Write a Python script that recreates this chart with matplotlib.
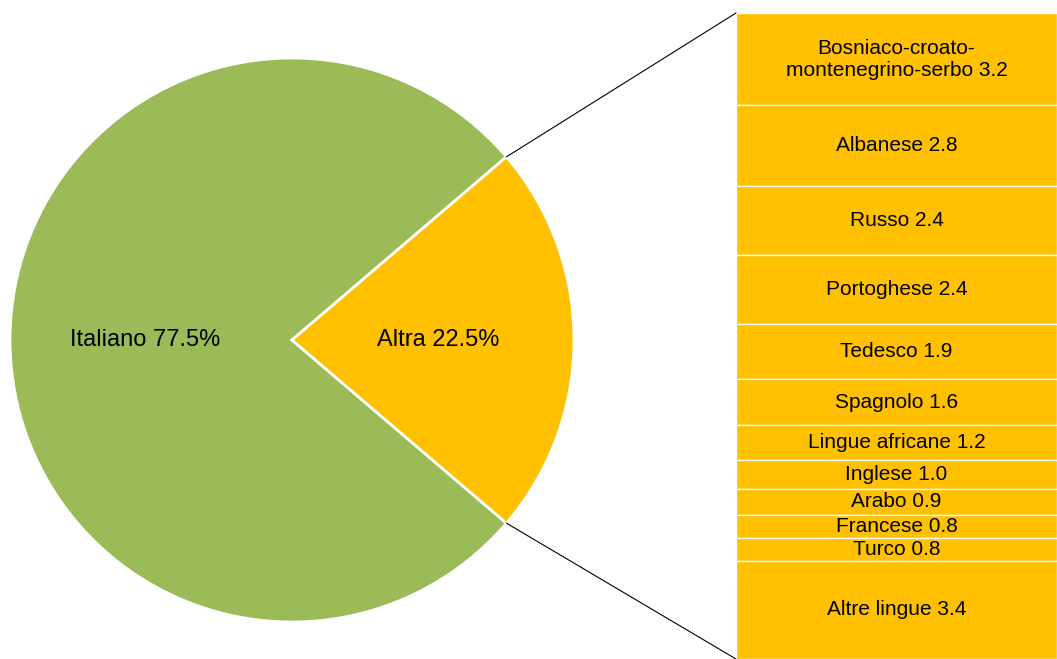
import matplotlib
matplotlib.use("Agg")
import matplotlib.pyplot as plt
from matplotlib.patches import ConnectionPatch

plt.rcParams['font.family'] = ['Liberation Sans', 'DejaVu Sans']

# dati
pie_labels = ["Italiano", "Altra"]
pie_values = [77.5, 22.5]
pie_colors = ["#9BBB59", "#FFC000"]

bar_labels = ["Bosniaco-croato-\nmontenegrino-serbo", "Albanese", "Russo", "Portoghese",
              "Tedesco", "Spagnolo", "Lingue africane", "Inglese", "Arabo",
              "Francese", "Turco", "Altre lingue"]
bar_values = [3.2, 2.8, 2.4, 2.4, 1.9, 1.6, 1.2, 1.0, 0.9, 0.8, 0.8, 3.4]
bar_color = "#FFC000"

W, H = 1057, 659
fig = plt.figure(figsize=(W / 100, H / 100), dpi=100)

# torta
ax_pie = fig.add_axes([10 / W, (H - 622) / H, 564 / W, 564 / H])
start = 360 * pie_values[1] / 100 / 2
wedges, _ = ax_pie.pie(pie_values, colors=pie_colors, startangle=start,
                       counterclock=True,
                       wedgeprops=dict(edgecolor="white", linewidth=2))
ax_pie.set_xlim(-1, 1)
ax_pie.set_ylim(-1, 1)
ax_pie.set_aspect("equal")
ax_pie.axis("off")

import numpy as np
for w, lab, val in zip(wedges, pie_labels, pie_values):
    mid = np.deg2rad((w.theta1 + w.theta2) / 2)
    ax_pie.text(0.52 * np.cos(mid), 0.52 * np.sin(mid), f"{lab} {val}%",
                ha="center", va="center", fontsize=17)

# barra
ax_bar = fig.add_axes([736 / W, 0, (W - 736) / W, (H - 13) / H])
total = sum(bar_values)
bottom = 0
for lab, val in zip(bar_labels, bar_values):
    ax_bar.bar(0, val, bottom=bottom, width=1, color=bar_color,
               edgecolor="white", linewidth=1)
    ax_bar.text(0, bottom + val / 2, f"{lab} {val:.1f}", ha="center",
                va="center", fontsize=15, linespacing=1.2)
    bottom += val
ax_bar.set_xlim(-0.5, 0.5)
ax_bar.set_ylim(total, 0)
ax_bar.axis("off")

# linee di collegamento
theta_top = np.deg2rad(wedges[1].theta2)
theta_bot = np.deg2rad(wedges[1].theta1)
for th, yb in [(theta_top, 0), (theta_bot, total)]:
    con = ConnectionPatch(xyA=(-0.5, yb), coordsA=ax_bar.transData,
                          xyB=(np.cos(th), np.sin(th)), coordsB=ax_pie.transData,
                          color="black", linewidth=0.8)
    fig.add_artist(con)

fig.savefig("out.png", dpi=100)
